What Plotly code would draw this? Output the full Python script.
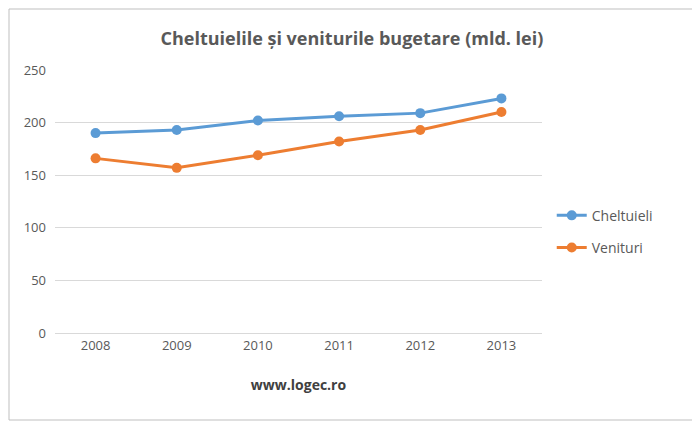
import plotly.graph_objects as go

years = ["2008", "2009", "2010", "2011", "2012", "2013"]
cheltuieli = [190, 193, 202, 206, 209, 223]
venituri = [166, 157, 169, 182, 193, 210]

fig = go.Figure()
fig.add_trace(go.Scatter(x=years, y=cheltuieli, name="Cheltuieli", mode="lines+markers", legendgroup="a",
                         line=dict(color="#5B9BD5", width=3), marker=dict(size=10)))
fig.add_trace(go.Scatter(x=years, y=venituri, name="Venituri", mode="lines+markers", legendgroup="b",
                         line=dict(color="#ED7D31", width=3), marker=dict(size=10)))
pw, ph = 487, 263
fig.update_layout(
    width=692, height=413, paper_bgcolor="white", plot_bgcolor="white",
    margin=dict(l=47, r=158, t=62, b=88),
    font=dict(family="Open Sans, DejaVu Sans", color="#595959", size=13),
    title=dict(text="<b>Cheltuielile și veniturile bugetare (mld. lei)</b>", x=0.497, xref="container",
               xanchor="center", y=0.925, yanchor="middle", font=dict(size=18, color="#595959")),
    legend=dict(x=1.02, y=0.385, yanchor="middle", tracegroupgap=11,
                font=dict(size=14, color="#595959")),
    xaxis=dict(showgrid=False, showline=True, linecolor="#D9D9D9", ticks="", range=[-0.5, 5.5],
               title=dict(text="<b>www.logec.ro</b>", font=dict(size=14, color="#404040"), standoff=27)),
    yaxis=dict(range=[0, 250], dtick=50, gridcolor="#D9D9D9", zeroline=False, ticks="",
               ticklabelstandoff=8),
    shapes=[dict(type="rect", xref="paper", yref="paper", x0=-46/pw, x1=1+157/pw,
                 y0=-87/ph, y1=1+61/ph, line=dict(color="#BFBFBF", width=1))],
)
fig.write_html("out.html")
